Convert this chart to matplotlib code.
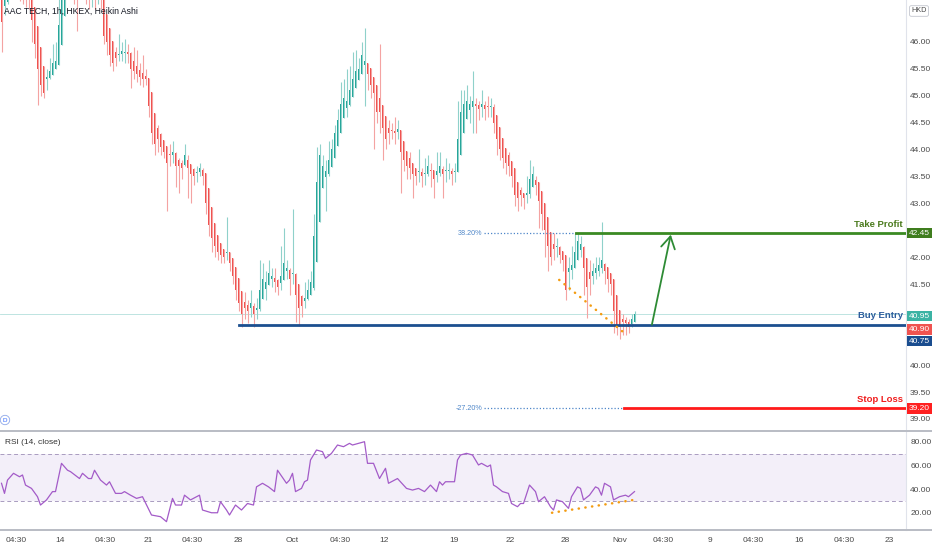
import numpy as np
import matplotlib
matplotlib.use("Agg")
import matplotlib.pyplot as plt
from matplotlib.lines import Line2D

plt.rcParams["font.family"] = ["Liberation Sans", "DejaVu Sans"]

# Heikin Ashi closes / wick extremes, one per hourly bar
ha_close = [
    46.36, 46.80, 46.95, 47.00, 47.05, 47.10, 47.00, 46.95, 46.90, 46.80,
    46.40, 45.95, 45.50, 45.20, 45.05, 45.35, 45.45, 45.60, 45.65, 46.30,
    47.00, 47.20, 47.30, 47.20, 47.00, 46.90, 47.00, 47.10, 47.00, 46.90,
    47.00, 46.95, 47.00, 46.90, 46.10, 46.00, 45.75, 45.60, 45.70, 45.78,
    45.82, 45.80, 45.78, 45.50, 45.45, 45.40, 45.35, 45.30, 45.30, 44.80,
    44.30, 44.10, 44.20, 44.05, 43.95, 43.75, 43.90, 43.95, 43.70, 43.70,
    43.65, 43.90, 43.65, 43.55, 43.50, 43.58, 43.65, 43.50, 43.00, 42.60,
    42.35, 42.20, 42.10, 42.05, 42.00, 42.10, 41.90, 41.65, 41.40, 41.15,
    40.95, 41.05, 41.00, 41.15, 40.95, 41.05, 41.40, 41.60, 41.55, 41.70,
    41.65, 41.55, 41.45, 41.65, 41.90, 41.80, 41.60, 41.70, 41.30, 41.05,
    41.10, 41.25, 41.40, 41.55, 42.40, 43.40, 43.90, 43.70, 43.60, 43.80,
    44.00, 44.30, 44.55, 44.85, 44.95, 44.90, 45.10, 45.30, 45.45, 45.50,
    45.75, 45.65, 45.40, 45.20, 45.05, 44.70, 44.70, 44.40, 44.20, 44.30,
    44.35, 44.30, 44.38, 43.95, 43.80, 43.70, 43.65, 43.55, 43.50, 43.60,
    43.50, 43.55, 43.70, 43.60, 43.45, 43.60, 43.70, 43.55, 43.60, 43.62,
    43.55, 43.60, 44.20, 44.70, 44.85, 44.90, 44.85, 44.90, 44.80, 44.75,
    44.85, 44.75, 44.78, 44.80, 44.50, 44.20, 44.00, 43.85, 43.75, 43.70,
    43.50, 43.15, 43.10, 43.15, 43.10, 43.20, 43.45, 43.55, 43.35, 43.05,
    42.80, 42.50, 42.20, 42.00, 42.15, 42.20, 42.05, 41.95, 41.40, 41.80,
    41.85, 42.10, 42.30, 42.25, 41.80, 41.45, 41.60, 41.75, 41.80, 41.85,
    41.95, 41.75, 41.60, 41.50, 41.00, 40.75, 40.70, 40.80, 40.78, 40.70,
    40.85, 40.95,
]
ha_high = [
    47.00, 47.00, 47.10, 47.20, 47.20, 47.30, 47.20, 47.10, 47.00, 46.95,
    46.80, 46.30, 45.90, 45.50, 45.30, 45.50, 45.70, 45.95, 46.00, 46.80,
    47.30, 47.40, 47.50, 47.40, 47.20, 47.10, 47.20, 47.30, 47.20, 47.10,
    47.20, 47.10, 47.20, 47.00, 46.90, 46.30, 46.00, 45.85, 45.90, 46.15,
    46.00, 46.05, 45.95, 45.80, 45.90, 45.85, 45.60, 45.75, 45.50, 45.30,
    44.80, 44.40, 44.45, 44.30, 44.10, 43.95, 44.10, 44.15, 43.95, 43.85,
    43.80, 44.10, 43.90, 43.70, 43.65, 43.70, 43.75, 43.65, 43.50, 43.00,
    42.60, 42.40, 42.30, 42.20, 42.15, 42.75, 42.10, 41.90, 41.65, 41.40,
    41.15, 41.35, 41.20, 41.40, 41.15, 41.25, 41.95, 41.90, 41.75, 41.95,
    41.80, 41.80, 41.60, 42.20, 42.55, 41.95, 41.80, 42.90, 41.70, 41.30,
    41.30, 41.55, 41.60, 41.75, 42.80, 44.05, 44.10, 43.90, 43.80, 44.15,
    44.20, 44.45, 44.75, 45.25, 45.30, 45.50, 45.55, 45.80, 45.85, 45.70,
    46.00, 46.25, 45.60, 45.40, 45.30, 45.00, 45.95, 44.70, 44.45, 44.55,
    44.50, 44.60, 44.55, 44.30, 44.00, 43.85, 43.95, 43.70, 43.65, 44.00,
    43.65, 43.85, 43.90, 43.75, 43.60, 43.95, 43.95, 43.70, 43.85, 43.75,
    43.65, 43.75, 44.90, 45.10, 45.10, 45.20, 45.00, 45.45, 44.95, 44.90,
    45.10, 44.90, 45.00, 44.95, 44.85, 44.40, 44.15, 44.00, 43.90, 43.95,
    43.70, 43.40, 43.25, 43.30, 43.20, 43.50, 43.80, 43.70, 43.50, 43.30,
    43.00, 42.70, 42.40, 42.15, 42.45, 42.35, 42.20, 42.10, 41.95, 42.00,
    42.20, 42.45, 42.45, 42.40, 42.20, 41.70, 41.95, 41.90, 42.00, 42.00,
    42.65, 41.90, 41.75, 41.60, 41.40, 40.90, 40.85, 40.95, 40.90, 40.85,
    40.95, 41.00,
]
ha_low = [
    45.81, 46.50, 46.70, 46.80, 46.85, 46.90, 46.75, 46.70, 46.65, 46.60,
    46.00, 45.70, 44.82, 45.00, 44.95, 45.10, 45.30, 45.40, 45.50, 45.60,
    46.20, 46.90, 47.00, 46.90, 46.70, 46.20, 46.80, 46.85, 46.70, 46.60,
    46.65, 46.60, 46.70, 46.60, 45.95, 45.75, 45.55, 45.45, 45.55, 45.65,
    45.65, 45.60, 45.60, 45.14, 45.30, 45.25, 45.20, 45.15, 45.20, 44.60,
    44.10, 43.90, 43.95, 43.90, 43.85, 42.85, 43.70, 43.75, 43.30, 43.20,
    43.45, 43.70, 43.10, 43.00, 43.35, 43.40, 43.50, 43.35, 42.80, 42.40,
    42.10, 42.00, 41.95, 41.90, 41.90, 41.95, 41.75, 41.50, 41.20, 41.00,
    40.70, 40.85, 40.78, 40.90, 40.70, 40.85, 41.00, 41.35, 41.20, 41.50,
    41.45, 41.35, 41.30, 41.40, 41.60, 41.60, 41.30, 41.50, 40.80, 40.72,
    40.90, 41.05, 41.20, 41.35, 41.40, 42.30, 43.30, 43.30, 42.85, 43.50,
    43.70, 43.90, 44.20, 44.40, 44.60, 44.60, 44.80, 45.00, 45.20, 45.30,
    45.45, 44.80, 45.10, 44.95, 44.00, 44.50, 44.30, 43.80, 44.00, 44.10,
    44.20, 44.10, 44.20, 43.20, 43.60, 43.45, 43.45, 43.10, 43.35, 43.40,
    43.30, 43.35, 43.50, 43.30, 43.10, 43.40, 43.50, 43.10, 43.40, 43.45,
    43.35, 43.40, 43.60, 44.20, 44.60, 44.70, 44.50, 44.30, 44.30, 44.55,
    44.60, 44.55, 44.60, 44.60, 44.30, 43.90, 43.80, 43.65, 43.55, 43.50,
    43.30, 42.95, 42.85, 42.95, 42.90, 43.00, 43.10, 43.30, 43.15, 42.55,
    42.50, 42.00, 41.75, 41.85, 41.95, 42.00, 41.90, 41.75, 41.20, 41.40,
    41.60, 41.80, 42.00, 42.00, 41.30, 40.88, 41.30, 41.50, 41.60, 41.65,
    41.70, 41.50, 41.35, 41.30, 40.60, 40.55, 40.49, 40.55, 40.55, 40.60,
    40.70, 40.80,
]
first_open = 46.95

# RSI(14) vertices: bar index and value
rsi_bar = [0, 1, 2, 4, 6, 7, 8, 10, 12, 13, 15, 17, 18, 20, 22, 23, 26, 27, 29, 30,
           31, 33, 35, 36, 38, 40, 41, 43, 45, 47, 50, 53, 55, 57, 58, 60, 61, 63, 65, 66,
           67, 70, 72, 73, 75, 76, 78, 80, 82, 84, 85, 87, 89, 91, 92, 95, 96, 97, 98, 100,
           101, 102, 103, 105, 107, 108, 110, 112, 114, 116, 117, 119, 121, 122, 124, 126,
           128, 129, 131, 132, 135, 137, 139, 141, 143, 145, 146, 147, 148, 151, 152, 153,
           155, 157, 158, 159, 160, 162, 163, 164, 165, 167, 169, 170, 172, 173, 174, 176,
           178, 179, 181, 183, 184, 185, 187, 189, 190, 192, 193, 194, 196, 198, 199, 200,
           201, 203, 204, 206, 208, 209, 211]
rsi_val = [45, 36.5, 47.7, 53.4, 50.5, 52, 43.5, 40.7, 33.7, 26.7, 31, 38, 38, 61.8, 56, 54.8,
           49, 53.4, 49, 49, 56, 47.7, 43.5, 46.3, 36.5, 36.5, 38, 35, 32.3, 33.7, 18.3, 16.9,
           12.7, 32.3, 26.7, 26.7, 35, 31, 33.7, 35, 22.5, 20.2, 20.2, 29.5, 22.5, 18.3, 26.7,
           22.5, 28, 26.7, 42, 45, 42, 38, 56, 45, 47.7, 53.4, 38, 40.7, 46.3, 47.7, 64.6, 73,
           71.6, 66, 70.2, 77.2, 75.8, 78.6, 77.2, 78.6, 80, 61.8, 61.8, 49, 57.6, 45, 47.7, 49,
           40.7, 39.3, 40.7, 38, 43.5, 38, 46.3, 43.5, 46.3, 46.3, 64.6, 68.8, 70.2, 68.8, 64.6,
           60.4, 61.8, 59, 60.4, 43.5, 42, 38, 36.5, 28, 25.3, 28, 28, 43.5, 38, 29.5, 33.7,
           25.3, 22.5, 31, 29.5, 23.9, 33.7, 42, 40.7, 31, 35, 42, 40.7, 35, 45, 42, 31, 33.7,
           35, 33.7, 38]

tick_bar = [5, 19.5, 34.5, 49, 63.5, 79, 97, 113, 127.5, 151, 169.5, 188, 206,
            220.5, 236, 250.5, 266, 281, 296]
tick_text = ["04:30", "14", "04:30", "21", "04:30", "28", "Oct", "04:30", "12", "19",
             "22", "28", "Nov", "04:30", "9", "04:30", "16", "04:30", "23"]

# 41.00 is hidden behind the last-price tags
price_ticks = [39.0, 39.5, 40.0, 41.5, 42.0, 43.0, 43.5, 44.0, 44.5, 45.0, 45.5, 46.0]
rsi_ticks = [20, 40, 60, 80]

take_profit = 42.45
buy_entry = 40.75
stop_loss = 39.20
last_ha = 40.95
last_close = 40.90

# drawing anchors (bar units)
entry_start = 79.3
tp_start = 191.5
sl_start = 207.5
fib_start = 160.8
arrow_from = (216.8, 40.75)
arrow_to = (223.1, 42.42)
wedge_bar = [185.9, 207.5]
wedge_price = [41.58, 40.60]
rsi_tl_bar = [183.5, 210.5]
rsi_tl_val = [20.2, 30.9]

GREEN = "#26a69a"
RED = "#ef5350"
AXIS_TXT = "#4a4a4a"
FS = 6.0

fig = plt.figure(figsize=(9.32, 5.5), dpi=100, facecolor="white")
W, H = 932, 550
axw = 906 / W
ax = fig.add_axes([0, 1 - 431 / H, axw, 431 / H])
ax2 = fig.add_axes([0, 1 - 530 / H, axw, 98 / H], sharex=ax)

c = np.array(ha_close)
n = len(c)
o = np.empty(n)
o[0] = first_open
for i in range(1, n):
    o[i] = (o[i - 1] + c[i - 1]) / 2
hi = np.maximum.reduce([np.array(ha_high), o, c])
lo = np.minimum.reduce([np.array(ha_low), o, c])
x = np.arange(n)
up = c >= o
body_col = np.where(up, GREEN, RED)
wick_col = np.where(up, "#8fd1ca", "#f4a3a2")

ax.vlines(x, lo, hi, colors=wick_col, lw=0.8, zorder=2)
ax.bar(x, np.maximum(np.abs(c - o), 0.02), bottom=np.minimum(o, c), width=0.65,
       color=body_col, linewidth=0, zorder=3)

ax.axhline(last_ha, color=GREEN, alpha=0.35, lw=0.6, zorder=1)

xr = 301.5
fib_col = "#4f87c9"
ax.plot([fib_start, tp_start], [take_profit] * 2, color=fib_col, lw=0.9,
        ls=(0, (1, 1.6)), zorder=4)
ax.plot([fib_start, sl_start], [stop_loss] * 2, color=fib_col, lw=0.9,
        ls=(0, (1, 1.6)), zorder=4)
ax.text(fib_start - 0.6, take_profit, "38.20%", color=fib_col, fontsize=5.2,
        ha="right", va="center")
ax.text(fib_start - 0.6, stop_loss, "-27.20%", color=fib_col, fontsize=5.2,
        ha="right", va="center")

ax.plot([tp_start, xr], [take_profit] * 2, color="#3a8a22", lw=2, zorder=5)
ax.plot([entry_start, xr], [buy_entry] * 2, color="#1c4f8f", lw=2, zorder=5)
ax.plot([sl_start, xr], [stop_loss] * 2, color="#ff1a1a", lw=2, zorder=5)

ax.plot(wedge_bar, wedge_price, color="#f39c12", lw=1.8, ls=(0, (0.1, 2.6)),
        dash_capstyle="round", zorder=6)
ax.annotate("", xy=arrow_to, xytext=arrow_from,
            arrowprops=dict(arrowstyle="->,head_length=0.85,head_width=0.5",
                            color="#2e8b35", lw=1.3, shrinkA=0, shrinkB=0), zorder=6)

ytr = ax.get_yaxis_transform()
for label, value, col in [("Take Profit", take_profit, "#4b7b1e"),
                          ("Buy Entry", buy_entry, "#2b5c9c"),
                          ("Stop Loss", stop_loss, "#f01d1d")]:
    ax.annotate(label, xy=(1, value), xycoords=ytr, xytext=(-2.2, 6.3),
                textcoords="offset points", ha="right", va="center", fontsize=6.8,
                fontweight="bold", color=col)


def price_tag(value, fc, dy_px=0.0):
    ax.annotate(f"{value:.2f}", xy=(1, value), xycoords=ytr,
                xytext=(2.0, dy_px * 0.72), textcoords="offset points",
                ha="left", va="center", fontsize=FS, color="white",
                bbox=dict(boxstyle="square,pad=0.22", fc=fc, ec="none"),
                annotation_clip=False, zorder=10)


price_tag(take_profit, "#3f7d1e")
price_tag(last_ha, "#3bb3a4", -2.2)
price_tag(last_close, "#ef5350", -13)
price_tag(buy_entry, "#1a4d8f", -16.5)
price_tag(stop_loss, "#ff2020")

ax.set_xlim(-0.5, xr)
ax.set_ylim(38.777, 46.773)
ax.yaxis.tick_right()
ax.set_yticks(price_ticks)
ax.set_yticklabels([f"{v:.2f}" for v in price_ticks])
ax.tick_params(axis="y", length=0, pad=3.0, labelsize=FS, labelcolor=AXIS_TXT)
ax.tick_params(axis="x", bottom=False, labelbottom=False)
for s in ax.spines.values():
    s.set_visible(False)
ax.spines["right"].set_visible(True)
ax.spines["right"].set_color("#e0e3eb")

ax.text(0.004, 1 - 11 / 431, "AAC TECH, 1h, HKEX, Heikin Ashi", transform=ax.transAxes,
        fontsize=6.2, color="#131722", va="center", ha="left", zorder=12)
ax.text(5 / 906, 11 / 431, "D", transform=ax.transAxes, fontsize=4.5, color="#2962ff",
        ha="center", va="center",
        bbox=dict(boxstyle="circle,pad=0.35", fc="white", ec="#8fa8e8", lw=0.6))

# RSI pane
ax2.axhspan(30, 70, color="#7e57c2", alpha=0.09, lw=0)
ax2.axhline(70, color="#a99cc0", lw=0.7, ls=(0, (4, 3)))
ax2.axhline(30, color="#a99cc0", lw=0.7, ls=(0, (4, 3)))
ax2.plot(rsi_bar, rsi_val, color="#a35bc8", lw=0.9, zorder=3)
ax2.plot(rsi_tl_bar, rsi_tl_val, color="#f39c12", lw=1.8, ls=(0, (0.1, 2.6)),
         dash_capstyle="round", zorder=4)
ax2.set_ylim(5.69, 88.16)
ax2.yaxis.tick_right()
ax2.set_yticks(rsi_ticks)
ax2.set_yticklabels([f"{v:.2f}" for v in rsi_ticks])
ax2.tick_params(axis="y", length=0, pad=3.0, labelsize=FS, labelcolor=AXIS_TXT)
ax2.set_xticks(tick_bar)
ax2.set_xticklabels(tick_text)
ax2.tick_params(axis="x", length=0, pad=5.0, labelsize=FS, labelcolor=AXIS_TXT)
for s in ax2.spines.values():
    s.set_visible(False)
ax2.spines["right"].set_visible(True)
ax2.spines["right"].set_color("#e0e3eb")
ax2.text(0.005, (530 - 443) / 98, "RSI (14, close)", transform=ax2.transAxes,
         fontsize=6, color="#333333", va="center", ha="left")

for yy in (431, 530):
    fig.add_artist(Line2D([0, 1], [1 - yy / H] * 2, transform=fig.transFigure,
                          color="#b9bcc4", lw=1.4))

fig.text(919 / W, 1 - 11 / H, "HKD", fontsize=5.2, color=AXIS_TXT, ha="center",
         va="center", bbox=dict(boxstyle="round,pad=0.25", fc="white", ec="#c3c6ce", lw=0.6))

fig.savefig("out.png", dpi=100, facecolor="white")
